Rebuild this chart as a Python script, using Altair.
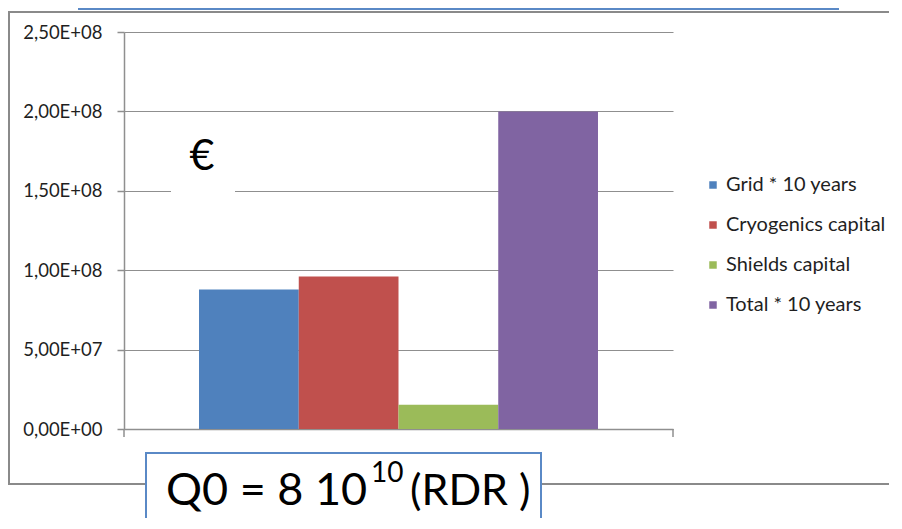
import altair as alt
import pandas as pd

# ---- data ----
series = ["Grid * 10 years", "Cryogenics capital", "Shields capital", "Total * 10 years"]
values = [8.78e7, 9.6e7, 1.53e7, 2.0e8]
colors = ["#4F81BD", "#C0504D", "#9BBB59", "#8064A2"]
y_ticks = [0, 5e7, 1e8, 1.5e8, 2e8, 2.5e8]

W, H = 549, 397
FONT = "Lato"
GRID = "#8F8F8F"
BOX = "#5A89C6"

df = pd.DataFrame({"grp": [""] * len(series), "series": series, "value": values})
one = pd.DataFrame({"a": [0]})

bars = alt.Chart(df).mark_bar().encode(
    x=alt.X("grp:N", title=None,
            scale=alt.Scale(paddingInner=0, paddingOuter=0.188),
            axis=alt.Axis(labels=False, ticks=False, domain=True, domainColor=GRID,
                          domainWidth=1.5, grid=False)),
    xOffset=alt.XOffset("series:N", sort=series,
                        scale=alt.Scale(paddingInner=0, paddingOuter=0)),
    y=alt.Y("value:Q", title=None,
            scale=alt.Scale(domain=[0, 2.5e8], nice=False),
            axis=alt.Axis(values=y_ticks,
                          labelExpr="replace(replace(upper(format(datum.value,'.2e')),'.',','),'E+','E+0')",
                          grid=True, gridColor=GRID, gridWidth=1,
                          domainColor=GRID, domainWidth=1.5,
                          tickColor=GRID, tickSize=7, tickWidth=1.5,
                          labelFont=FONT, labelFontSize=18.5, labelColor="#1f1f1f",
                          labelPadding=15)),
    color=alt.Color("series:N", sort=series,
                    scale=alt.Scale(domain=series, range=colors),
                    legend=alt.Legend(title=None, orient="none", legendX=579, legendY=143,
                                      symbolType="square", symbolSize=56,
                                      symbolStrokeWidth=0, labelFont=FONT,
                                      labelFontSize=20, labelColor="#1f1f1f",
                                      rowPadding=20, labelOffset=3)),
)

frame = alt.Chart(one).mark_rect(fillOpacity=0, stroke="#8A8A8A", strokeWidth=2).encode(
    x=alt.value(-115), x2=alt.value(820), y=alt.value(-20), y2=alt.value(452))

top_box = alt.Chart(one).mark_rect(fill="white", stroke=BOX, strokeWidth=2).encode(
    x=alt.value(79 - 124), x2=alt.value(838 - 124), y=alt.value(-60), y2=alt.value(9 - 32))

euro_bg = alt.Chart(one).mark_rect(fill="white").encode(
    x=alt.value(171 - 124), x2=alt.value(235 - 124), y=alt.value(98), y2=alt.value(168))
euro = alt.Chart(one).mark_text(font=FONT, fontSize=43, color="black",
                                align="center", baseline="middle").encode(
    x=alt.value(202 - 124), y=alt.value(157 - 32), text=alt.value("€"))

end_ticks = alt.Chart(pd.DataFrame({"p": [0, W]})).mark_rule(color=GRID, strokeWidth=1.5).encode(
    x=alt.X("p:Q", scale=alt.Scale(domain=[0, W], range=[0, W]), axis=None),
    y=alt.value(H), y2=alt.value(H + 8))

bottom_box = alt.Chart(one).mark_rect(fill="white", stroke=BOX, strokeWidth=2).encode(
    x=alt.value(146 - 124), x2=alt.value(541 - 124), y=alt.value(453 - 32), y2=alt.value(600))

t1 = alt.Chart(one).mark_text(font=FONT, fontSize=45, color="black", align="left",
                              baseline="alphabetic").encode(
    x=alt.value(166 - 124), y=alt.value(505 - 32), text=alt.value("Q0 = 8 10"))
t2 = alt.Chart(one).mark_text(font=FONT, fontSize=28, color="black", align="left",
                              baseline="alphabetic").encode(
    x=alt.value(371 - 124), y=alt.value(482 - 32), text=alt.value("10"))
t3 = alt.Chart(one).mark_text(font=FONT, fontSize=43, color="black", align="left",
                              baseline="alphabetic").encode(
    x=alt.value(410 - 124), y=alt.value(505 - 32), text=alt.value("(RDR )"))

chart = alt.layer(frame, top_box, bars, euro_bg, euro, end_ticks, bottom_box, t1, t2, t3).resolve_scale(
    x="independent"
).properties(
    width=W, height=H,
    padding={"left": 116, "top": 24, "right": 216, "bottom": 89},
    autosize="none",
    background="white",
).configure_view(strokeWidth=0)

chart.save("out.html", embed_options={"renderer": "svg", "actions": False})
